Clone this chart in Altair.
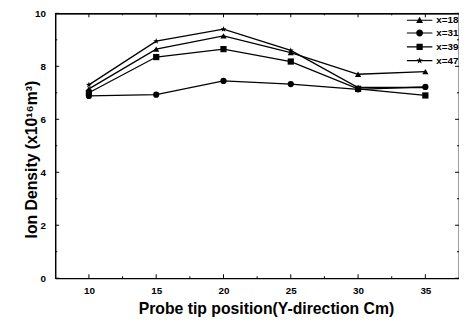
import altair as alt
import pandas as pd

# ---- data ----
positions = [10, 15, 20, 25, 30, 35]
series_names = ["x=18", "x=31", "x=39", "x=47"]
x18 = [7.15, 8.65, 9.15, 8.52, 7.70, 7.80]
x31 = [6.88, 6.93, 7.45, 7.33, 7.13, 7.22]
x39 = [7.00, 8.35, 8.65, 8.18, 7.15, 6.90]
x47 = [7.30, 8.95, 9.40, 8.60, 7.20, 7.20]

y_major = [0, 2, 4, 6, 8, 10]
y_minor = [1, 3, 5, 7, 9]
x_major = [10, 15, 20, 25, 30, 35]
x_minor = [12.5, 17.5, 22.5, 27.5, 32.5]

rows = []
for name, vals in zip(series_names, [x18, x31, x39, x47]):
    for p, v in zip(positions, vals):
        rows.append({"pos": p, "val": v, "series": name})
df = pd.DataFrame(rows)

W, H = 410, 269
FONT = "Liberation Sans"

STAR = ("M0,-1L0.235,-0.324L0.951,-0.309L0.380,0.124L0.588,0.809L0,0.4"
        "L-0.588,0.809L-0.380,0.124L-0.951,-0.309L-0.235,-0.324Z")
SEGS = ("M-3.7,-0.17L-0.5,-0.17L-0.5,0.17L-3.7,0.17Z"
        "M0.5,-0.17L3.7,-0.17L3.7,0.17L0.5,0.17Z")
LEG_SHAPES = [
    SEGS + "M0,-1L1,0.8L-1,0.8Z",
    SEGS + "M-1,0A1,1,0,1,1,1,0A1,1,0,1,1,-1,0Z",
    SEGS + "M-0.9,-0.9L0.9,-0.9L0.9,0.9L-0.9,0.9Z",
    SEGS + STAR,
]

xs = alt.Scale(domain=[7.5, 37.5], nice=False, zero=False)
ys = alt.Scale(domain=[0, 10], nice=False, zero=False)

x_enc = alt.X("pos:Q", scale=xs, axis=alt.Axis(
    values=x_major, title="Probe tip position(Y-direction Cm)", ticks=False,
    domain=True, domainColor="black", domainWidth=1.2, grid=False,
    labelFont=FONT, labelFontSize=10, labelFontWeight="bold",
    labelColor="black", labelPadding=8, titleFont=FONT, titleFontSize=16,
    titleFontWeight="bold", titleColor="black", titlePadding=5, titleX=214))
y_enc = alt.Y("val:Q", scale=ys, axis=alt.Axis(
    values=y_major, title="Ion Density (x10¹⁶m³)", ticks=False,
    domain=True, domainColor="black", domainWidth=1.2, grid=False,
    labelFont=FONT, labelFontSize=10, labelFontWeight="bold",
    labelColor="black", labelPadding=10, titleFont=FONT, titleFontSize=16,
    titleFontWeight="bold", titleColor="black", titlePadding=-5, titleY=148))

frame_x = alt.Axis(orient="top", labels=False, ticks=False, title=None, grid=False,
                   domain=True, domainColor="black", domainWidth=1.2)
frame_y = alt.Axis(orient="right", labels=False, ticks=False, title=None, grid=False,
                   domain=True, domainColor="black", domainWidth=1.2)

lines = alt.Chart(df).mark_line(color="black", strokeWidth=1.3).encode(
    x=x_enc, y=y_enc, detail="series:N")

points = alt.Chart(df).mark_point(filled=True, color="black", size=40, opacity=1).encode(
    x=alt.X("pos:Q", axis=None), y=alt.Y("val:Q", axis=None),
    shape=alt.Shape("series:N", scale=alt.Scale(
        domain=series_names, range=["triangle-up", "circle", "square", STAR]), legend=None))

legend_layer = alt.Chart(df).transform_filter("false").mark_point(
    filled=True, color="black", opacity=1, size=49).encode(
    x=alt.X("pos:Q", axis=None), y=alt.Y("val:Q", axis=None),
    shape=alt.Shape("series:N", scale=alt.Scale(domain=series_names, range=LEG_SHAPES),
                    legend=alt.Legend(title=None, orient="none", legendX=365, legendY=2,
                                      labelFont=FONT, labelFontSize=10, labelFontWeight="bold",
                                      labelColor="black", labelOffset=12,
                                      symbolFillColor="black", symbolSize=49,
                                      symbolOpacity=1, rowPadding=0)))

ydf_major = pd.DataFrame({"v": y_major})
ydf_minor = pd.DataFrame({"v": y_minor})
xdf_major = pd.DataFrame({"v": x_major})
xdf_minor = pd.DataFrame({"v": x_minor})

def yticks(d, L, axis=None):
    left = alt.Chart(d).mark_rule(color="black", strokeWidth=1).encode(
        y=alt.Y("v:Q", scale=ys, axis=axis), x=alt.value(0), x2=alt.value(L))
    right = alt.Chart(d).mark_rule(color="black", strokeWidth=1).encode(
        y=alt.Y("v:Q", scale=ys, axis=None), x=alt.value(W), x2=alt.value(W - L))
    return [left, right]

def xticks(d, L, axis=None):
    bottom = alt.Chart(d).mark_rule(color="black", strokeWidth=1).encode(
        x=alt.X("v:Q", scale=xs, axis=axis), y=alt.value(H), y2=alt.value(H - L))
    top = alt.Chart(d).mark_rule(color="black", strokeWidth=1).encode(
        x=alt.X("v:Q", scale=xs, axis=None), y=alt.value(0), y2=alt.value(L))
    return [bottom, top]

tick_layers = (yticks(ydf_major, 4, frame_y) + yticks(ydf_minor, 2)
               + xticks(xdf_major, 4, frame_x) + xticks(xdf_minor, 2))

chart = alt.layer(
    lines, points, legend_layer, *tick_layers
).resolve_scale(shape="independent").resolve_axis(
    x="independent", y="independent"
).properties(
    width=W, height=H,
    background="white",
    autosize=alt.AutoSizeParams(type="none"),
    padding={"left": 48, "top": 3, "right": 0, "bottom": 40},
).configure_view(stroke="black", strokeWidth=1.2)

chart.save("out.html", embed_options={"renderer": "svg", "actions": False})
